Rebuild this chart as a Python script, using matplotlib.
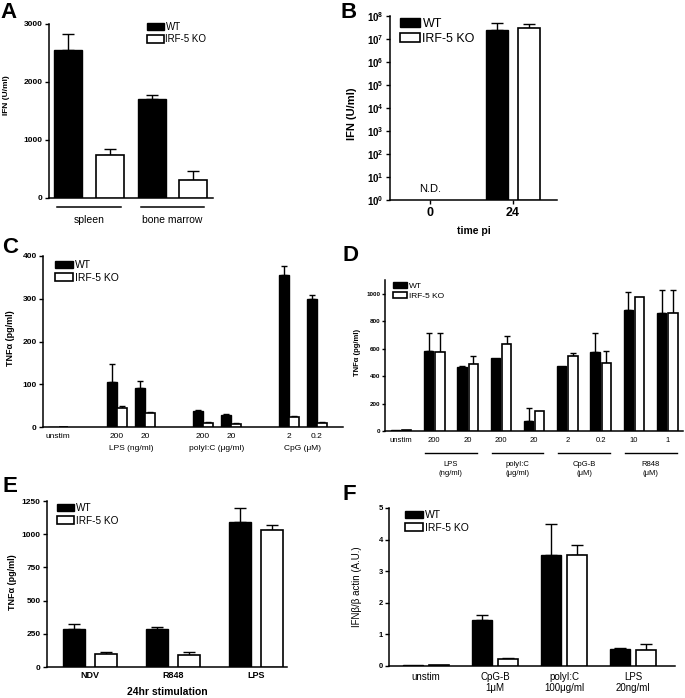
import numpy as np
import matplotlib
matplotlib.use('Agg')
import matplotlib.pyplot as plt
from matplotlib.patches import Patch

plt.rcParams['font.family'] = ['Liberation Sans', 'DejaVu Sans']
plt.rcParams['mathtext.fontset'] = 'custom'
plt.rcParams['mathtext.rm'] = 'Liberation Sans'
plt.rcParams['mathtext.bf'] = 'Liberation Sans:bold'

W, H = 685, 698

# ---- data ----
a_groups = ['spleen', 'bone marrow']
a_wt = [2550, 1700]
a_wt_top = [2830, 1780]
a_ko = [750, 310]
a_ko_top = [840, 460]

b_times = ['0', '24']
b_wt = [np.nan, 2.5e7]
b_wt_top = [np.nan, 5.0e7]
b_ko = [np.nan, 3.0e7]
b_ko_top = [np.nan, 4.3e7]

c_conds = ['unstim', '200', '20', '200', '20', '2', '0.2']
c_groups = ['LPS (ng/ml)', 'polyI:C (μg/ml)', 'CpG (μM)']
c_wt = [1, 105, 91, 37, 29, 355, 299]
c_wt_top = [1, 148, 108, 39, 30, 376, 308]
c_ko = [0, 45, 32, 10, 8, 24, 10]
c_ko_top = [0, 48, 34, 11, 9, 26, 12]

d_conds = ['unstim', '200', '20', '200', '20', '2', '0.2', '10', '1']
d_groups = ['LPS\n(ng/ml)', 'polyI:C\n(μg/ml)', 'CpG-B\n(μM)', 'R848\n(μM)']
d_wt = [5, 580, 465, 530, 75, 470, 575, 880, 860]
d_wt_top = [5, 715, 475, 530, 170, 470, 715, 1015, 1030]
d_ko = [5, 575, 490, 635, 145, 545, 495, 975, 860]
d_ko_top = [5, 715, 550, 690, 145, 565, 585, 975, 1030]

e_conds = ['NDV', 'R848', 'LPS']
e_wt = [285, 288, 1090]
e_wt_top = [325, 300, 1200]
e_ko = [95, 93, 1030]
e_ko_top = [112, 112, 1070]

f_conds = ['unstim', 'CpG-B\n1μM', 'polyI:C\n100μg/ml', 'LPS\n20ng/ml']
f_wt = [0.03, 1.45, 3.5, 0.55]
f_wt_top = [0.03, 1.6, 4.5, 0.58]
f_ko = [0.02, 0.22, 3.5, 0.5]
f_ko_top = [0.02, 0.24, 3.82, 0.7]

fig = plt.figure(figsize=(W / 100, H / 100), dpi=100)


def make_ax(l, t, r, b):
    ax = fig.add_axes([l / W, 1 - b / H, (r - l) / W, (b - t) / H])
    for s in ['top', 'right']:
        ax.spines[s].set_visible(False)
    for s in ['left', 'bottom']:
        ax.spines[s].set_linewidth(1.1)
    ax.tick_params(axis='y', direction='out', length=3, width=1, pad=1.5)
    ax.tick_params(axis='x', length=0)
    return ax


def pair(ax, x, wt, wt_top, ko, ko_top, width, off, cap):
    x = np.asarray(x, dtype=float)
    wt, wt_top = np.asarray(wt, float), np.asarray(wt_top, float)
    ko, ko_top = np.asarray(ko, float), np.asarray(ko_top, float)
    ok = ~np.isnan(wt)
    bottom = 1 if ax.get_yscale() == 'log' else 0
    ax.bar(x[ok] - off, wt[ok] - bottom, width, bottom=bottom, color='black',
           edgecolor='black', lw=1, zorder=3)
    ax.bar(x[ok] + off, ko[ok] - bottom, width, bottom=bottom, color='white',
           edgecolor='black', lw=1.2, zorder=3)
    for xs, v, top in [(x[ok] - off, wt[ok], wt_top[ok]), (x[ok] + off, ko[ok], ko_top[ok])]:
        has = top > v
        ax.errorbar(xs[has], v[has], yerr=[np.zeros(has.sum()), (top - v)[has]],
                    fmt='none', ecolor='black', elinewidth=1, capsize=cap,
                    capthick=1, zorder=2)


def legend(ax, x, y, size, hl=1.7):
    handles = [Patch(facecolor='black', edgecolor='black', lw=1, label='WT'),
               Patch(facecolor='white', edgecolor='black', lw=1.2, label='IRF-5 KO')]
    ax.legend(handles=handles, loc='upper left', bbox_to_anchor=(x / W, 1 - y / H),
              bbox_transform=fig.transFigure, frameon=False, fontsize=size,
              borderpad=0, borderaxespad=0, handlelength=hl, handleheight=0.75,
              handletextpad=0.2, labelspacing=0.25)


def bold_ticks(labels):
    for lbl in labels:
        lbl.set_fontweight('bold')


def letter(x, y, s):
    fig.text(x / W, 1 - y / H, s, fontsize=16, fontweight='bold', ha='left', va='center')


# ---- A ----
ax = make_ax(49, 24, 213, 198)
xa = np.arange(len(a_groups))
ax.set_xlim(-0.479, 1.485)
ax.set_ylim(0, 3000)
pair(ax, xa, a_wt, a_wt_top, a_ko, a_ko_top, 0.335, 0.251, 4.5)
ax.set_yticks([0, 1000, 2000, 3000])
ax.tick_params(axis='y', labelsize=6)
bold_ticks(ax.get_yticklabels())
ax.set_xticks([])
for g, name in zip(xa, a_groups):
    ax.plot([g - 0.38, g + 0.38], [-0.052, -0.052], color='black', lw=1.1,
            transform=ax.get_xaxis_transform(), clip_on=False)
    ax.text(g, -0.1, name, transform=ax.get_xaxis_transform(), ha='center',
            va='top', fontsize=7.5)
ax.set_ylabel('IFN (U/ml)', fontsize=6, fontweight='bold')
ax.yaxis.set_label_coords(-0.238, 0.59)
legend(ax, 147, 22, 7)
letter(0, 12, 'A')

# ---- B ----
ax = make_ax(390, 16, 557, 200)
xb = np.arange(len(b_times))
ax.set_yscale('log')
ax.set_xlim(-0.48, 1.53)
ax.set_ylim(1, 1e8)
pair(ax, xb, b_wt, b_wt_top, b_ko, b_ko_top, 0.265, 0.19, 4.5)
ax.set_yticks([10.0 ** k for k in range(9)])
ax.set_yticklabels([r'$\mathbf{10^{%d}}$' % k for k in range(9)], fontsize=7)
ax.minorticks_off()
ax.set_xticks(xb)
ax.set_xticklabels(b_times, fontsize=9, fontweight='bold')
ax.tick_params(axis='x', length=3, width=1, pad=2)
ax.text(0, 3, 'N.D.', ha='center', va='center', fontsize=8)
ax.set_xlabel('time pi', fontsize=7.5, fontweight='bold', labelpad=5)
ax.set_ylabel('IFN (U/ml)', fontsize=8, fontweight='bold')
ax.yaxis.set_label_coords(-0.2, 0.47)
legend(ax, 400, 18, 9, hl=1.6)
letter(340, 13, 'B')

# ---- C ----
ax = make_ax(43, 256, 343, 427)
gap = 3.07
xc = np.array([-2.1] + [g * gap + k for g in range(len(c_groups)) for k in range(2)])
ax.set_xlim(-2.64, 8.07)
ax.set_ylim(0, 400)
pair(ax, xc, c_wt, c_wt_top, c_ko, c_ko_top, 0.33, 0.18, 2.5)
ax.set_yticks([0, 100, 200, 300, 400])
ax.tick_params(axis='y', labelsize=6)
bold_ticks(ax.get_yticklabels())
ax.set_xticks(xc)
ax.set_xticklabels(c_conds, fontsize=6)
ax.tick_params(axis='x', pad=4)
for g, name in enumerate(c_groups):
    ax.text(g * gap + 0.5, -0.105, name, transform=ax.get_xaxis_transform(),
            ha='center', va='top', fontsize=6)
ax.set_ylabel('TNFα (pg/ml)', fontsize=6.5, fontweight='bold')
ax.yaxis.set_label_coords(-0.093, 0.52)
legend(ax, 55, 260, 7.5)
letter(2, 248, 'C')

# ---- D ----
ax = make_ax(385, 280, 683, 431)
xd = np.arange(len(d_conds))
ax.set_xlim(-0.48, 8.47)
ax.set_ylim(0, 1100)
pair(ax, xd, d_wt, d_wt_top, d_ko, d_ko_top, 0.28, 0.17, 2.5)
ax.set_yticks([0, 200, 400, 600, 800, 1000])
ax.tick_params(axis='y', labelsize=4.5, length=2)
bold_ticks(ax.get_yticklabels())
ax.set_xticks(xd)
ax.set_xticklabels(d_conds, fontsize=5.5)
ax.tick_params(axis='x', pad=4)
for g, name in enumerate(d_groups):
    c = 2 * g + 1.5
    ax.plot([c - 0.78, c + 0.78], [-0.146, -0.146], color='black', lw=1,
            transform=ax.get_xaxis_transform(), clip_on=False)
    ax.text(c, -0.2, name, transform=ax.get_xaxis_transform(), ha='center',
            va='top', fontsize=5.5, linespacing=1.3)
ax.set_ylabel('TNFα (pg/ml)', fontsize=5.5, fontweight='bold')
ax.yaxis.set_label_coords(-0.08, 0.52)
legend(ax, 393, 282, 6)
letter(342, 255, 'D')

# ---- E ----
ax = make_ax(47, 501, 287, 667)
xe = np.arange(len(e_conds))
ax.set_xlim(-0.52, 2.37)
ax.set_ylim(0, 1250)
pair(ax, xe, e_wt, e_wt_top, e_ko, e_ko_top, 0.265, 0.19, 4)
ax.set_yticks([0, 250, 500, 750, 1000, 1250])
ax.tick_params(axis='y', labelsize=6)
bold_ticks(ax.get_yticklabels())
ax.set_xticks(xe)
ax.set_xticklabels(e_conds, fontsize=6.5, fontweight='bold')
ax.tick_params(axis='x', pad=3)
ax.set_xlabel('24hr stimulation', fontsize=7.5, fontweight='bold', labelpad=5)
ax.set_ylabel('TNFα (pg/ml)', fontsize=6.5, fontweight='bold')
ax.yaxis.set_label_coords(-0.125, 0.51)
legend(ax, 57, 503, 7.2)
letter(2, 487, 'E')

# ---- F ----
ax = make_ax(389, 508, 675, 666)
xf = np.arange(len(f_conds))
ax.set_xlim(-0.54, 3.61)
ax.set_ylim(0, 5)
pair(ax, xf, f_wt, f_wt_top, f_ko, f_ko_top, 0.29, 0.19, 4)
ax.set_yticks([0, 1, 2, 3, 4, 5])
ax.tick_params(axis='y', labelsize=5.5)
bold_ticks(ax.get_yticklabels())
ax.set_xticks(xf)
ax.set_xticklabels(f_conds, fontsize=7, linespacing=1.2, va='top')
ax.tick_params(axis='x', pad=4)
ax.set_ylabel('IFNβ/β actin (A.U.)', fontsize=7)
ax.yaxis.set_label_coords(-0.094, 0.5)
legend(ax, 405, 510, 7.5)
letter(343, 495, 'F')

fig.savefig('out.png', dpi=100, facecolor='white')
